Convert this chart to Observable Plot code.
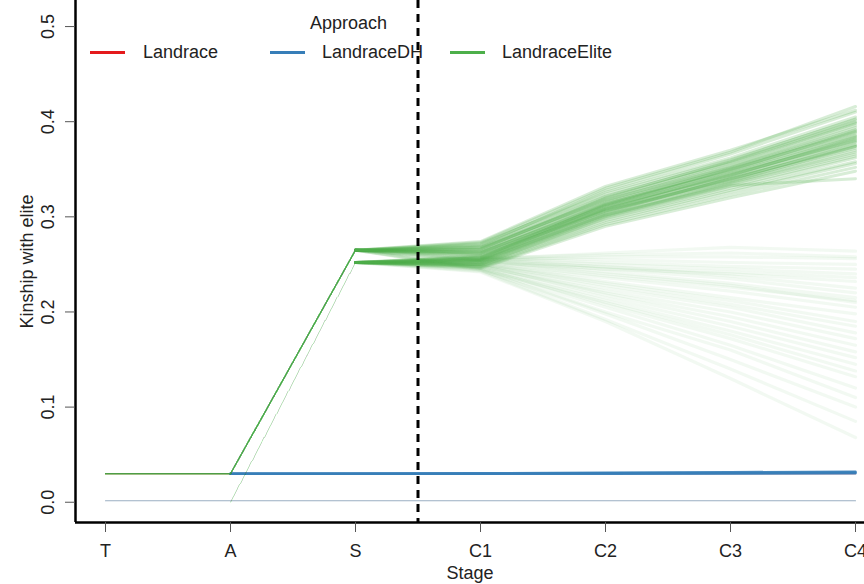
<!DOCTYPE html>
<html><head><meta charset="utf-8">
<script src="https://cdn.jsdelivr.net/npm/d3@7"></script>
<script src="https://cdn.jsdelivr.net/npm/@observablehq/plot@0.6"></script>
<style>
body{margin:0;background:#fff;font-family:"Liberation Sans",Arial,Helvetica,sans-serif;}
#wrap{position:relative;width:864px;height:584px;overflow:hidden;}
.lg{position:absolute;font-size:18px;line-height:18px;color:#222;white-space:nowrap;}
.ln{position:absolute;height:3px;width:35px;}
</style></head><body>
<div id="wrap"></div>
<script>
const stages = ["T","A","S","C1","C2","C3","C4"];
const yTicks = [0, 0.1, 0.2, 0.3, 0.4, 0.5];
const approaches = ["Landrace","LandraceDH","LandraceElite"];
const approachColors = ["#E41A1C","#377EB8","#4DAF4A"];
const selectionBetween = ["S","C1"];

// values per stage: T, A, S, C1, C2, C3, C4
const landrace = [
  [0.030,0.030,0.030,0.030,0.030,0.030,0.030]
];
const landraceDH = [
  [0.030,0.030,0.0300,0.0300,0.0304,0.0308,0.0312],
  [0.030,0.030,0.0302,0.0304,0.0310,0.0316,0.0320],
  [0.030,0.030,0.0298,0.0298,0.0300,0.0302,0.0304]
];
const landraceDHZero = [
  [0.0015,0.0015,0.0015,0.0015,0.0015,0.0015,0.0015]
];
const eliteLow = [
  [0.030,0.030,0.265,0.255,0.262,0.268,0.264],
  [0.000,0.000,0.252,0.252,0.245,0.240,0.232],
  [0.030,0.030,0.265,0.258,0.255,0.252,0.250],
  [0.000,0.000,0.252,0.250,0.230,0.212,0.190],
  [0.030,0.030,0.265,0.256,0.250,0.245,0.240],
  [0.000,0.000,0.252,0.248,0.220,0.195,0.165],
  [0.030,0.030,0.265,0.254,0.258,0.258,0.256],
  [0.000,0.000,0.252,0.250,0.236,0.222,0.205],
  [0.030,0.030,0.265,0.246,0.212,0.180,0.145],
  [0.000,0.000,0.252,0.253,0.248,0.238,0.225],
  [0.030,0.030,0.265,0.249,0.225,0.205,0.178],
  [0.000,0.000,0.252,0.245,0.205,0.165,0.120],
  [0.030,0.030,0.265,0.257,0.252,0.248,0.245],
  [0.000,0.000,0.252,0.251,0.232,0.215,0.198],
  [0.030,0.030,0.265,0.247,0.215,0.185,0.152],
  [0.000,0.000,0.252,0.244,0.198,0.150,0.100],
  [0.030,0.030,0.265,0.255,0.245,0.235,0.220],
  [0.000,0.000,0.252,0.250,0.228,0.208,0.185],
  [0.030,0.030,0.265,0.246,0.208,0.172,0.132],
  [0.000,0.000,0.252,0.243,0.192,0.140,0.085],
  [0.030,0.030,0.265,0.254,0.242,0.230,0.215],
  [0.000,0.000,0.252,0.248,0.222,0.200,0.172],
  [0.030,0.030,0.265,0.252,0.238,0.226,0.212],
  [0.000,0.000,0.252,0.242,0.190,0.130,0.068],
  [0.030,0.030,0.265,0.256,0.247,0.242,0.236],
  [0.000,0.000,0.252,0.249,0.218,0.190,0.158],
  [0.030,0.030,0.265,0.245,0.210,0.176,0.138],
  [0.000,0.000,0.252,0.253,0.240,0.228,0.210],
  [0.030,0.030,0.265,0.244,0.200,0.160,0.110],
  [0.000,0.000,0.252,0.257,0.260,0.262,0.258]
];
const eliteHigh = [
  [0.030,0.030,0.265,0.268,0.318,0.352,0.392],
  [0.000,0.000,0.252,0.255,0.305,0.340,0.375],
  [0.030,0.030,0.265,0.262,0.312,0.348,0.386],
  [0.000,0.000,0.252,0.250,0.298,0.330,0.362],
  [0.030,0.030,0.265,0.271,0.326,0.362,0.405],
  [0.000,0.000,0.252,0.258,0.310,0.345,0.380],
  [0.030,0.030,0.265,0.265,0.315,0.350,0.388],
  [0.000,0.000,0.252,0.253,0.302,0.336,0.370],
  [0.030,0.030,0.265,0.260,0.308,0.342,0.378],
  [0.000,0.000,0.252,0.248,0.294,0.326,0.356],
  [0.030,0.030,0.265,0.274,0.332,0.370,0.412],
  [0.000,0.000,0.252,0.256,0.306,0.338,0.372],
  [0.030,0.030,0.265,0.266,0.320,0.356,0.398],
  [0.000,0.000,0.252,0.251,0.300,0.334,0.366],
  [0.030,0.030,0.265,0.263,0.311,0.344,0.382],
  [0.000,0.000,0.252,0.259,0.312,0.349,0.390],
  [0.030,0.030,0.265,0.269,0.322,0.358,0.400],
  [0.000,0.000,0.252,0.246,0.290,0.320,0.348],
  [0.030,0.030,0.265,0.261,0.309,0.346,0.384],
  [0.000,0.000,0.252,0.254,0.304,0.341,0.379],
  [0.030,0.030,0.265,0.270,0.328,0.366,0.410],
  [0.000,0.000,0.252,0.257,0.308,0.343,0.383],
  [0.030,0.030,0.265,0.264,0.316,0.353,0.394],
  [0.000,0.000,0.252,0.249,0.296,0.328,0.358],
  [0.030,0.030,0.265,0.267,0.317,0.354,0.396],
  [0.000,0.000,0.252,0.253,0.303,0.337,0.374],
  [0.030,0.030,0.265,0.262,0.314,0.347,0.385],
  [0.000,0.000,0.252,0.255,0.307,0.339,0.376],
  [0.030,0.030,0.265,0.272,0.324,0.360,0.402],
  [0.000,0.000,0.252,0.250,0.299,0.332,0.364],
  [0.030,0.030,0.265,0.259,0.306,0.340,0.374],
  [0.000,0.000,0.252,0.257,0.313,0.351,0.391],
  [0.030,0.030,0.265,0.266,0.319,0.357,0.399],
  [0.000,0.000,0.252,0.252,0.301,0.335,0.368],
  [0.030,0.030,0.265,0.268,0.321,0.359,0.403],
  [0.000,0.000,0.252,0.247,0.292,0.323,0.352],
  [0.030,0.030,0.265,0.263,0.313,0.350,0.389],
  [0.000,0.000,0.252,0.256,0.309,0.344,0.381],
  [0.030,0.030,0.265,0.273,0.330,0.368,0.416],
  [0.000,0.000,0.252,0.254,0.302,0.333,0.340]
];

function rows(list, tag) {
  const out = [];
  list.forEach((vals, k) => vals.forEach((v, i) => out.push({id: tag + k, x: i, y: v, start: vals[0]})));
  return out;
}
const col = name => approachColors[approaches.indexOf(name)];
const stageIdx = stages.map((_, i) => i);
const aIdx = stages.indexOf("A");
const sIdx = stages.indexOf("S");
const cut = (stages.indexOf(selectionBetween[0]) + stages.indexOf(selectionBetween[1])) / 2;
const xDomain = [-0.24, 6.072];
const yDomain = [-0.0213, 0.5274];
const green = col("LandraceElite");
const eliteLowRows = rows(eliteLow, "EL");
const eliteHighRows = rows(eliteHigh, "EH");
const eliteAll = eliteLowRows.concat(eliteHighRows);

const chart = Plot.plot({
  width: 864, height: 584,
  marginLeft: 75, marginRight: 0, marginTop: 0, marginBottom: 62,
  style: {fontFamily: "'Liberation Sans', Arial, sans-serif", fontSize: "18px", color: "#222", background: "#fff"},
  x: {domain: xDomain},
  y: {domain: yDomain},
  marks: [
    Plot.line(rows(landrace, "L"), {x: "x", y: "y", z: "id", stroke: col("Landrace"), strokeWidth: 1}),
    // LandraceDH: the T->A stretch lies under the elite lines
    Plot.line(rows(landraceDH, "D"), {filter: d => d.x >= aIdx, x: "x", y: "y", z: "id", stroke: col("LandraceDH"), strokeWidth: 2.4, strokeOpacity: 0.9}),
    Plot.line(rows(landraceDHZero, "Z"), {x: "x", y: "y", z: "id", stroke: "#9aaec2", strokeWidth: 1.1}),
    // early stages (T -> S): thin lines
    Plot.line(eliteAll, {filter: d => d.x <= sIdx && d.start > 0, x: "x", y: "y", z: "id", stroke: green, strokeWidth: 1.2, strokeOpacity: 0.07}),
    Plot.line(eliteAll, {filter: d => d.x >= aIdx && d.x <= sIdx && d.start === 0, x: "x", y: "y", z: "id", stroke: "#7fae7f", strokeWidth: 0.8, strokeOpacity: 0.025}),
    // from S onwards: fans
    Plot.line(eliteLowRows, {filter: d => d.x >= sIdx, x: "x", y: "y", z: "id", stroke: green, strokeWidth: 3.2, strokeOpacity: 0.075}),
    Plot.line(eliteHighRows, {filter: d => d.x >= sIdx, x: "x", y: "y", z: "id", stroke: green, strokeWidth: 3, strokeOpacity: 0.22}),
    Plot.ruleX([cut], {stroke: "#000", strokeWidth: 3, strokeDasharray: "8,6"}),
    Plot.ruleX([xDomain[0]], {stroke: "#000", strokeWidth: 2.5}),
    Plot.ruleY([yDomain[0]], {stroke: "#000", strokeWidth: 2.5}),
    Plot.axisX({ticks: stageIdx, tickFormat: i => stages[i], tickSize: 10, tickPadding: 12, fontSize: 18, label: null, stroke: "#555"}),
    Plot.axisY({ticks: yTicks, tickSize: 10, tickFormat: () => "", label: null, stroke: "#555"}),
    Plot.text(yTicks, {y: d => d, text: d => d.toFixed(1), frameAnchor: "left", dx: -27, rotate: -90, fontSize: 18, lineAnchor: "middle", textAnchor: "middle", fill: "#222"}),
    Plot.text(["Kinship with elite"], {text: d => d, frameAnchor: "left", dx: -48, rotate: -90, fontSize: 18, lineAnchor: "middle", textAnchor: "middle", fill: "#222"}),
    Plot.text(["Stage"], {text: d => d, frameAnchor: "bottom", dy: 51, fontSize: 18, lineAnchor: "middle", textAnchor: "middle", fill: "#222"})
  ]
});
const wrap = document.getElementById("wrap");
wrap.appendChild(chart);

// legend (inside the plot area, as in the reference)
const legPos = [{line: 90, text: 143}, {line: 270, text: 322}, {line: 450, text: 502}];
const title = document.createElement("div");
title.className = "lg"; title.textContent = "Approach";
title.style.left = "310px"; title.style.top = "14px";
wrap.appendChild(title);
approaches.forEach((a, i) => {
  const l = document.createElement("div");
  l.className = "ln"; l.style.left = legPos[i].line + "px"; l.style.top = "51px"; l.style.background = approachColors[i];
  wrap.appendChild(l);
  const t = document.createElement("div");
  t.className = "lg"; t.textContent = a; t.style.left = legPos[i].text + "px"; t.style.top = "43px";
  wrap.appendChild(t);
});
</script>
</body></html>
